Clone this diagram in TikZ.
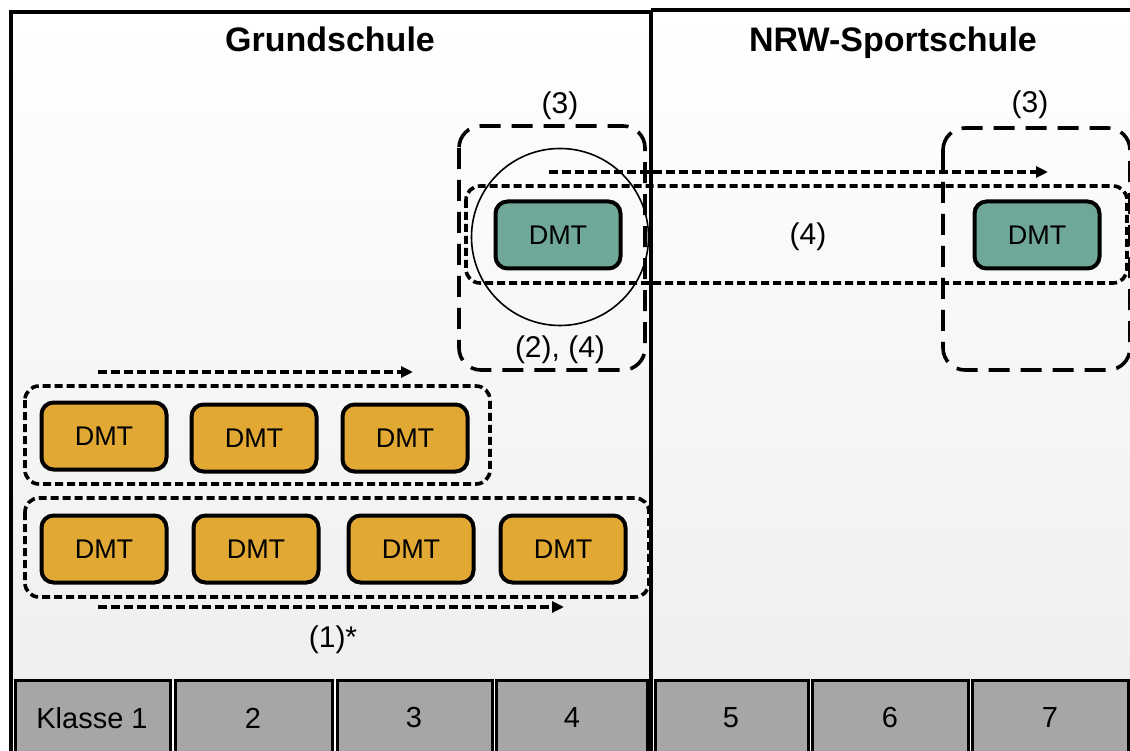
\documentclass[tikz,border=0pt]{standalone}
\usepackage{fontspec}
\setmainfont{Liberation Sans}
\usetikzlibrary{arrows.meta}
\definecolor{dmtorange}{HTML}{E2A834}
\definecolor{dmtgreen}{HTML}{6FA898}
\definecolor{cellgrey}{HTML}{A6A6A6}
\definecolor{bgbottom}{HTML}{EFEFEF}
\tikzset{
  dmtbox/.style={draw=black, line width=4pt, rounded corners=12pt, minimum width=125pt, minimum height=67pt, inner sep=0pt, font=\fontsize{27}{30}\selectfont},
  orangebox/.style={dmtbox, fill=dmtorange},
  greenbox/.style={dmtbox, fill=dmtgreen},
  groupdash/.style={draw=black, line width=3.6pt, dash pattern=on 8pt off 4pt, rounded corners=14pt},
  longdash/.style={draw=black, line width=3.6pt, dash pattern=on 21pt off 11pt, rounded corners=22pt},
  flowarrow/.style={draw=black, line width=3.3pt, dash pattern=on 9pt off 4pt, -{Triangle[length=12pt,width=11pt]}},
  celltext/.style={font=\fontsize{29}{32}\selectfont},
  labeltext/.style={font=\fontsize{30}{33}\selectfont},
  headtext/.style={font=\fontsize{34}{38}\selectfont\bfseries, anchor=base},
  cellbox/.style={draw=black, line width=3pt, fill=cellgrey},
}
\begin{document}
\begin{tikzpicture}[x=1pt,y=-1pt]
\useasboundingbox (0,0) rectangle (1130,751);
\clip (0,0) rectangle (1130,751);
% background panels
\shade[top color=white, bottom color=bgbottom] (11,12) rectangle (651,680);
\shade[top color=white, bottom color=bgbottom] (651,10) rectangle (1135,680);
\draw[line width=3.5pt] (11,751) -- (11,12) -- (651,12);
\draw[line width=3.5pt] (651,10) -- (1135,10);
% headings
\node[headtext] (hgs) at (330,52) {Grundschule};
\node[headtext] (hnrw) at (893,52) {NRW-Sportschule};
% bottom cells
\draw[cellbox] (15,680) rectangle (170,760);
\draw[cellbox] (175,680) rectangle (332,760);
\draw[cellbox] (337,680) rectangle (492,760);
\draw[cellbox] (496,680) rectangle (647,760);
\draw[cellbox] (655,680) rectangle (808,760);
\draw[cellbox] (812,680) rectangle (968,760);
\draw[cellbox] (972,680) rectangle (1128,760);
\node[celltext] (k1) at (92,718) {Klasse 1};
\node[celltext] (k2) at (253,718) {2};
\node[celltext] (k3) at (414,718) {3};
\node[celltext] (k4) at (572,718) {4};
\node[celltext] (k5) at (731,718) {5};
\node[celltext] (k6) at (890,718) {6};
\node[celltext] (k7) at (1050,718) {7};
% divider
\draw[line width=4pt] (651,10) -- (651,751);
% orange rows
\node[orangebox] (a1) at (104,436) {DMT};
\node[orangebox] (a2) at (254,438) {DMT};
\node[orangebox] (a3) at (405,438) {DMT};
\node[orangebox] (b1) at (104,549) {DMT};
\node[orangebox] (b2) at (256,549) {DMT};
\node[orangebox] (b3) at (411,549) {DMT};
\node[orangebox] (b4) at (563,549) {DMT};
% groups
\draw[groupdash] (25,386) rectangle (490,484);
\draw[groupdash] (25,498) rectangle (649,597);
% arrows
\coordinate (r1s) at (98,372);
\coordinate (r1e) at (413,372);
\coordinate (r2s) at (98,607);
\coordinate (r2e) at (564,607);
\draw[flowarrow] (r1s) -- (r1e);
\draw[flowarrow] (r2s) -- (r2e);
\node[labeltext] (l1) at (333,640) {(1)*};
% green part
\draw[longdash] (459,126) rectangle (645,370);
\draw[longdash] (943,128) rectangle (1130,370);
\node[labeltext] (l3a) at (560,106) {(3)};
\node[labeltext] (l3b) at (1030,105) {(3)};
\draw[groupdash] (466,186) rectangle (1127,283);
\node[greenbox] (g1) at (558,235) {DMT};
\node[greenbox] (g2) at (1037,235) {DMT};
\node[draw=black, line width=1.6pt, circle, minimum size=177pt, inner sep=0pt] (circ) at (560,237) {};
\coordinate (r3s) at (549,172);
\coordinate (r3e) at (1048,172);
\draw[flowarrow] (r3s) -- (r3e);
\node[labeltext] (l4) at (808,237) {(4)};
\node[labeltext] (l24) at (560,350) {(2), (4)};
\end{tikzpicture}
\end{document}
